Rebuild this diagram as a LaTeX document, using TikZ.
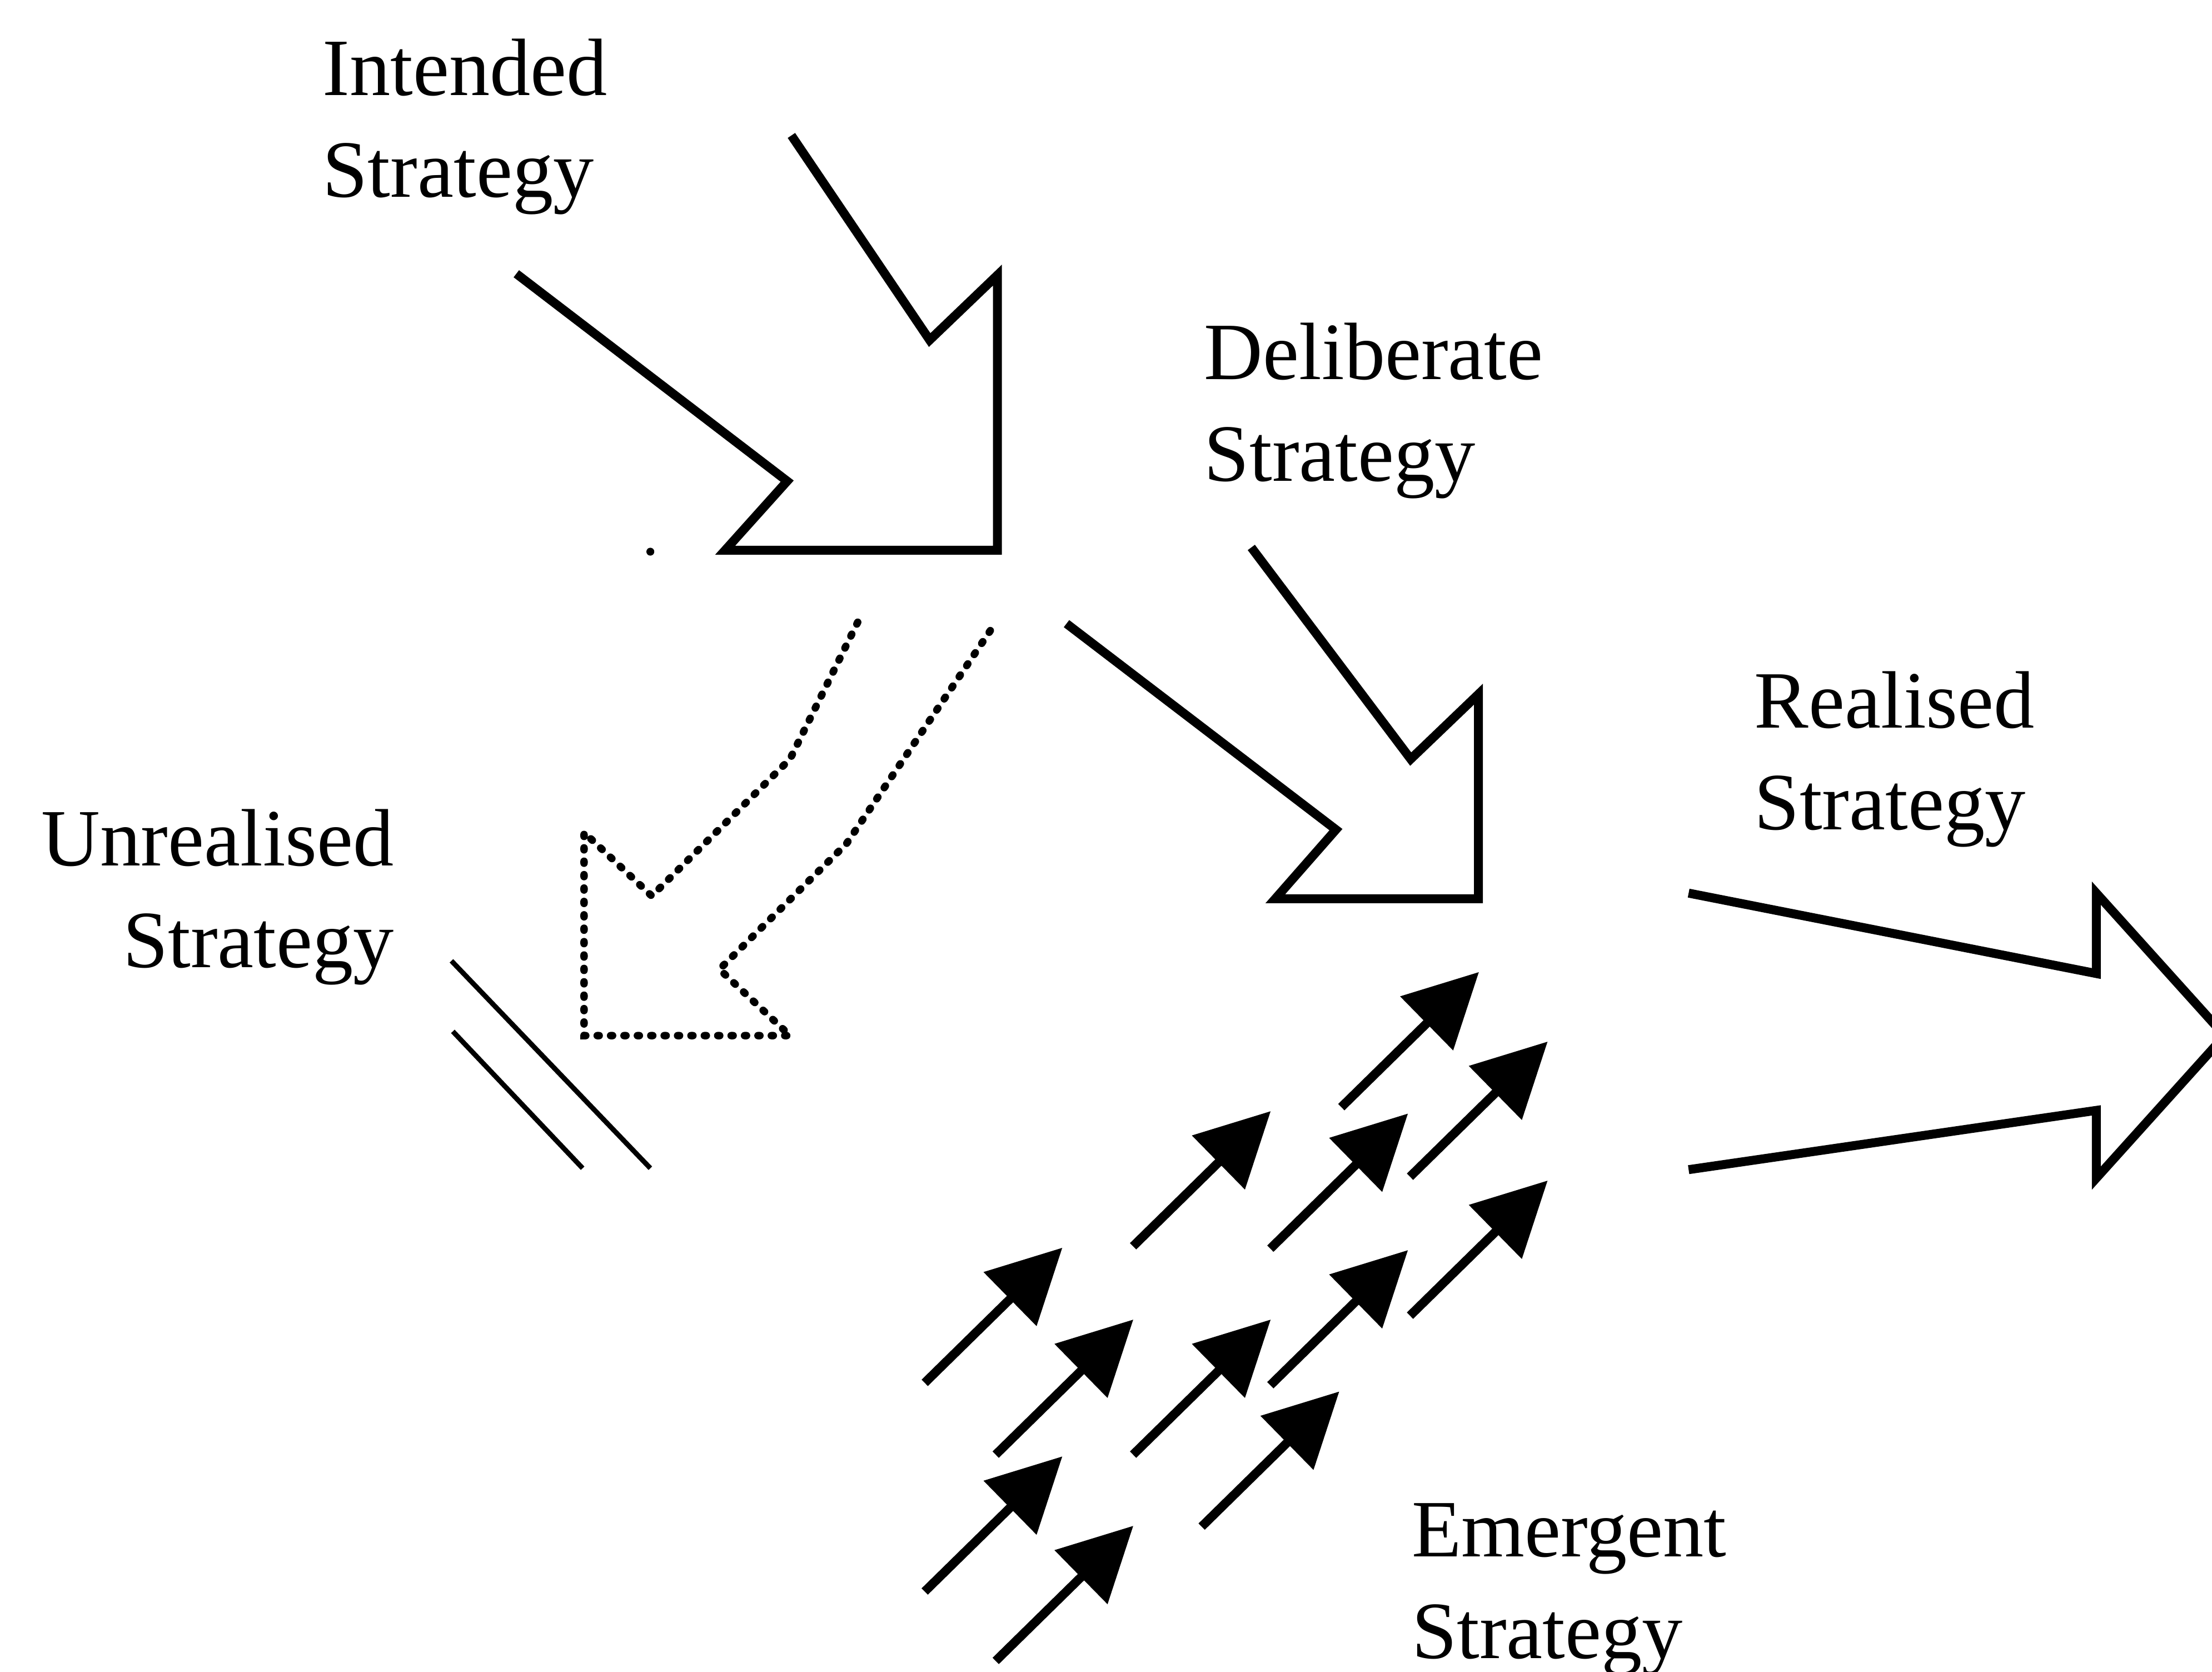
\documentclass[tikz,border=0pt]{standalone}
\usepackage{fontspec}
\setmainfont{Liberation Serif}
\usetikzlibrary{positioning, arrows.meta}

\begin{document}
\begin{tikzpicture}[x=0.01cm, y=-0.01cm,
	label/.style={inner sep=0pt, align=left, font=\fontsize{16.4}{20.5}\selectfont},
	blockarrow/.style={line width=1.8pt, line join=miter},
	lostarrow/.style={line width=1.5pt, line cap=round, dash pattern=on 0.4pt off 2.3pt},
	barrier/.style={line width=1pt},
	smallarrow/.style={line width=1.8pt, -{Triangle[length=0.52cm, width=0.52cm]}}]
	\useasboundingbox (0,0) rectangle (1568,1184.7);
	\clip (0,0) rectangle (1568,1184.7);

	% labels
	\node[label, anchor=north west] (intended) at (228,27) {Intended\\Strategy};
	\node[label, anchor=north west] (deliberate) at (853,228) {Deliberate\\Strategy};
	\node[label, anchor=north west] (realised) at (1243,475) {Realised\\Strategy};
	\node[label, anchor=north east, align=right] (unrealised) at (280,573) {Unrealised\\Strategy};
	\node[label, anchor=north west] (emergent) at (1000,1065) {Emergent\\Strategy};

	% intended -> deliberate
	\draw[blockarrow] (366,194) -- (558,341) -- (514,390) -- (707,390) -- (707,195) -- (659,241) -- (561,96);
	\fill (461,391) circle (2.8);

	% deliberate -> realised
	\draw[blockarrow] (756,442) -- (947,588) -- (904,637) -- (1048,637) -- (1048,492) -- (1000,538) -- (887,388);

	% unrealised
	\draw[lostarrow] (608,441) -- (560,538) -- (462,635) -- (414,590) -- (414,734) -- (560,734) -- (510,687) -- (600,598) -- (706,441);
	\draw[barrier] (320,681) -- (461,828);
	\draw[barrier] (321,731) -- (413,828);

	% emergent
	\foreach \x/\y in {950.8/784.7, 999.5/834, 803.2/883.3, 900.5/885, 999.5/932.5, 655.5/980.1,
		705.8/1031, 803.2/1031, 900.5/981.8, 851.8/1082, 655.5/1128, 705.8/1177.2}
		\draw[smallarrow] (\x,\y) -- ++(97.6,-95.8);

	% realised
	\draw[blockarrow] (1197,633) -- (1486,690) -- (1486,633) -- (1577,734) -- (1486,835) -- (1486,787) -- (1197,829);
\end{tikzpicture}
\end{document}
